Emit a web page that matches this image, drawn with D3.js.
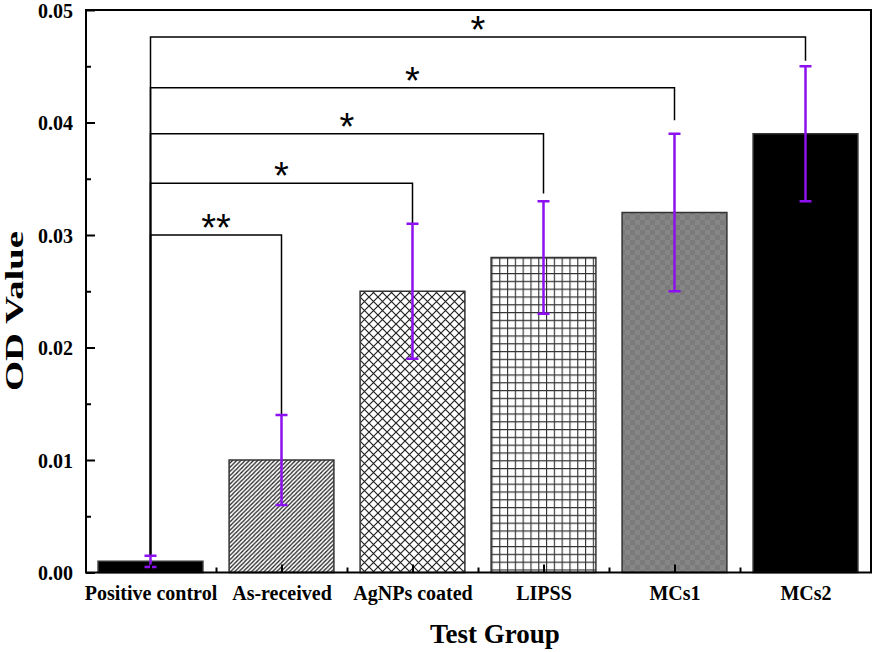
<!DOCTYPE html>
<html>
<head>
<meta charset="utf-8">
<script src="https://cdn.jsdelivr.net/npm/d3@7"></script>
<style>
  body { margin: 0; background: #fff; }
  text { font-family: "Liberation Serif", "Times New Roman", serif; }
</style>
</head>
<body>
<svg id="chart" width="873" height="652"></svg>
<script>
/* global d3: true */

// values
const categories = ['Positive control', 'As-received', 'AgNPs coated', 'LIPSS', 'MCs1', 'MCs2'];
const odValues = [0.001, 0.010, 0.025, 0.028, 0.032, 0.039];
const odErrors = [0.0005, 0.004, 0.006, 0.005, 0.007, 0.006];
const barFills = ['solid', 'diag', 'cross', 'grid', 'gray', 'solid'];

const yTicks = [0, 0.01, 0.02, 0.03, 0.04, 0.05];
const yMinorTicks = [0.005, 0.015, 0.025, 0.035, 0.045];

// significance brackets, all from the positive control
const sigTargets = ['As-received', 'AgNPs coated', 'LIPSS', 'MCs1', 'MCs2'];
const sigLabels = ['**', '*', '*', '*', '*'];
const sigLevels = [0.0300, 0.0346, 0.0390, 0.0431, 0.0476];
const sigEnds = [0.0140, 0.0310, 0.0337, 0.0402, 0.0455];

const width = 873;
const height = 652;
const margin = {top: 10, right: 2, bottom: 80, left: 86};
const errColor = '#8c10f0';

const svg = d3.select('#chart');

const x = d3.scaleLinear()
    .domain([0.5, categories.length + 0.5])
    .range([margin.left - 1, width - margin.right]);
const y = d3.scaleLinear()
    .domain([0, 0.05])
    .range([height - margin.bottom + 0.5, margin.top]);

const barWidth = (x(2) - x(1)) * 0.8;
const pos = function(i) { return x(i + 1); };

// fill patterns
const defs = svg.append('defs');
function addPattern(id, size, draw) {
    const p = defs.append('pattern')
        .attr('id', id)
        .attr('patternUnits', 'userSpaceOnUse')
        .attr('width', size)
        .attr('height', size);
    draw(p, size);
}
addPattern('diag', 4.2, function(p, s) {
    p.append('rect').attr('width', s).attr('height', s).attr('fill', '#fff');
    p.append('path')
        .attr('d', 'M0,' + s + 'L' + s + ',0M-1,1L1,-1M' + (s - 1) + ',' + (s + 1) + 'L' + (s + 1) + ',' + (s - 1))
        .attr('stroke', '#222').attr('stroke-width', 1.3);
});
addPattern('cross', 9, function(p, s) {
    p.append('rect').attr('width', s).attr('height', s).attr('fill', '#fff');
    p.append('path')
        .attr('d', 'M0,0L' + s + ',' + s + 'M' + s + ',0L0,' + s)
        .attr('stroke', '#222').attr('stroke-width', 1.2);
});
addPattern('grid', 7.8, function(p, s) {
    p.append('rect').attr('width', s).attr('height', s).attr('fill', '#fff');
    p.append('path')
        .attr('d', 'M0,0.5H' + s + 'M0.5,0V' + s)
        .attr('stroke', '#333').attr('stroke-width', 1.3);
});
addPattern('gray', 10, function(p, s) {
    p.append('rect').attr('width', s).attr('height', s).attr('fill', '#868686');
    p.append('rect').attr('width', s / 2).attr('height', s / 2).attr('fill', '#7b7b7b');
    p.append('rect').attr('x', s / 2).attr('y', s / 2)
        .attr('width', s / 2).attr('height', s / 2).attr('fill', '#7b7b7b');
});

// bars
svg.append('g')
    .selectAll('rect')
    .data(odValues)
    .enter().append('rect')
    .attr('x', function(d, i) { return pos(i) - barWidth / 2; })
    .attr('y', function(d) { return y(d); })
    .attr('width', barWidth)
    .attr('height', function(d) { return y(0) - y(d); })
    .attr('fill', function(d, i) {
        return barFills[i] === 'solid' ? '#000' : 'url(#' + barFills[i] + ')';
    })
    .attr('stroke', '#333')
    .attr('stroke-width', 1.5);

// significance brackets
const baseIdx = 0;
const baseTop = odValues[baseIdx] + odErrors[baseIdx];
const brackets = svg.append('g').attr('class', 'brackets');
sigTargets.forEach(function(name, k) {
    const j = categories.indexOf(name);
    const x1 = pos(baseIdx);
    const x2 = pos(j);
    brackets.append('path')
        .attr('d', 'M' + x1 + ',' + y(baseTop) +
            'V' + y(sigLevels[k]) + 'H' + x2 + 'V' + y(sigEnds[k]))
        .attr('fill', 'none')
        .attr('stroke', '#000')
        .attr('stroke-width', 1.5);
    brackets.append('text')
        .attr('x', (x1 + x2) / 2)
        .attr('y', y(sigLevels[k]) + 6)
        .attr('text-anchor', 'middle')
        .style('font-family', '"Liberation Sans", Arial, sans-serif')
        .attr('font-size', 38)
        .text(sigLabels[k]);
});

// error bars
const errs = svg.append('g').attr('class', 'errors')
    .attr('stroke', errColor)
    .attr('stroke-width', 2.5)
    .attr('fill', 'none');
odValues.forEach(function(v, i) {
    const cx = pos(i);
    const top = y(v + odErrors[i]);
    const bot = y(v - odErrors[i]);
    errs.append('path')
        .attr('d', 'M' + cx + ',' + top + 'V' + bot +
            'M' + (cx - 6) + ',' + top + 'H' + (cx + 6) +
            'M' + (cx - 6) + ',' + bot + 'H' + (cx + 6));
});

// axes, ticks point inward
svg.append('g')
    .attr('transform', 'translate(0,' + y(0) + ')')
    .call(d3.axisBottom(x)
        .tickValues(d3.range(1, categories.length + 1))
        .tickSize(-8)
        .tickPadding(13)
        .tickFormat(function(d) { return categories[d - 1]; }));
svg.append('g')
    .attr('transform', 'translate(0,' + y(0) + ')')
    .call(d3.axisBottom(x)
        .tickValues(d3.range(1.5, categories.length, 1))
        .tickSize(-5)
        .tickFormat(''));

const yAxis = svg.append('g')
    .attr('transform', 'translate(' + margin.left + ',0)')
    .call(d3.axisLeft(y)
        .tickValues(yTicks)
        .tickSize(-9)
        .tickPadding(13)
        .tickFormat(d3.format('.2f')));
svg.append('g')
    .attr('transform', 'translate(' + margin.left + ',0)')
    .call(d3.axisLeft(y)
        .tickValues(yMinorTicks)
        .tickSize(-5)
        .tickFormat(''));

svg.selectAll('.domain').remove();
svg.selectAll('.tick line').attr('stroke', '#000').attr('stroke-width', 2);
svg.selectAll('.tick text')
    .style('font-family', '"Liberation Serif", "Times New Roman", serif')
    .attr('font-size', 20)
    .attr('font-weight', 'bold')
    .attr('fill', '#000');
yAxis.selectAll('.tick text').attr('dy', '0.35em');

// frame
svg.append('rect')
    .attr('x', margin.left)
    .attr('y', margin.top)
    .attr('width', width - margin.right - margin.left)
    .attr('height', y(0) - margin.top)
    .attr('fill', 'none')
    .attr('stroke', '#000')
    .attr('stroke-width', 2);

// titles
svg.append('text')
    .attr('x', 495)
    .attr('y', 643)
    .attr('text-anchor', 'middle')
    .attr('font-size', 27)
    .attr('font-weight', 'bold')
    .text('Test Group');

svg.append('text')
    .attr('transform', 'translate(23,311) rotate(-90)')
    .attr('text-anchor', 'middle')
    .attr('font-size', 25)
    .attr('font-weight', 'bold')
    .attr('textLength', 160)
    .attr('lengthAdjust', 'spacingAndGlyphs')
    .text('OD Value');
</script>
</body>
</html>
